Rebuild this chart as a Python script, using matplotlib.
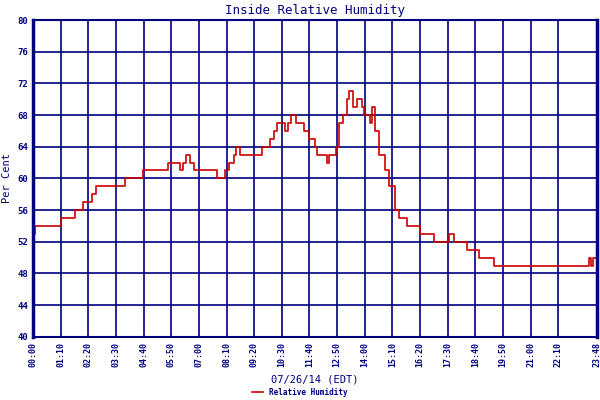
import numpy as np
import matplotlib
matplotlib.use('Agg')
import matplotlib.pyplot as plt
from matplotlib.lines import Line2D

# step changes: minutes after midnight, humidity %
minutes = [0, 5, 71, 99, 106, 126, 149, 160, 179, 232, 240, 278, 341, 346, 371, 380, 387, 397,
           407, 417, 467, 485, 495, 510, 515, 523, 579, 590, 599, 610, 619, 637, 645, 654, 665, 675,
           687, 700, 713, 720, 735, 745, 750, 766, 776, 786, 796, 801, 809, 820, 834, 839,
           852, 859, 867, 877, 890, 902, 917, 927, 948, 980, 1016, 1054, 1066, 1099,
           1130, 1167, 1408, 1412, 1418, 1422, 1428]
humidity = [53, 54, 55, 55, 56, 57, 58, 59, 59, 60, 60, 61, 62, 62, 61, 62, 63, 62,
            61, 61, 60, 61, 62, 63, 64, 63, 64, 64, 65, 66, 67, 66, 67, 68, 67, 67,
            66, 65, 64, 63, 63, 62, 63, 64, 67, 68, 70, 71, 69, 70, 69, 68,
            67, 69, 66, 63, 61, 59, 56, 55, 54, 53, 52, 53, 52, 51,
            50, 49, 50, 49, 50, 50, 50]

tick_min = list(range(0, 1400, 70)) + [1428]
tick_lab = ['%02d:%02d' % (m // 60, m % 60) for m in tick_min]

navy = '#000080'
red = '#cc0000'
plt.rcParams['font.family'] = 'DejaVu Sans Mono'

fig = plt.figure(figsize=(6, 4), dpi=100)
ax = fig.add_axes([0.055, 0.158, 0.94, 0.792])
ax.step(minutes, humidity, where='post', color=red, lw=1.2)
ax.set_xlim(0, 1428)
ax.set_ylim(40, 80)
ax.set_yticks(range(40, 81, 4))
ax.set_xticks(tick_min)
ax.set_xticklabels(tick_lab, rotation=90, fontsize=6, color=navy, fontweight='bold')
ax.tick_params(axis='y', labelsize=6.5, labelcolor=navy, length=0)
ax.tick_params(axis='x', length=0)
for lab in ax.get_yticklabels():
    lab.set_fontweight('bold')
ax.grid(True, color=navy, lw=1.2)
for s in ax.spines.values():
    s.set_color(navy)
    s.set_linewidth(1.5)
ax.spines['left'].set_linewidth(2.5)
ax.spines['right'].set_linewidth(2.5)
ax.set_title('Inside Relative Humidity', color=navy, fontsize=9, pad=4)
ax.set_ylabel('Per Cent', color=navy, fontsize=7.5, labelpad=4)
ax.set_xlabel('07/26/14 (EDT)', color=navy, fontsize=7.5, labelpad=6)
fig.legend([Line2D([], [], color=red, lw=1.2)], ['Relative Humidity'],
           loc='lower center', bbox_to_anchor=(0.5, -0.01), frameon=False,
           handlelength=1.5, prop={'weight': 'bold', 'size': 5.5})
for t in fig.legends[0].get_texts():
    t.set_color(navy)
fig.savefig('out.png', dpi=100)
